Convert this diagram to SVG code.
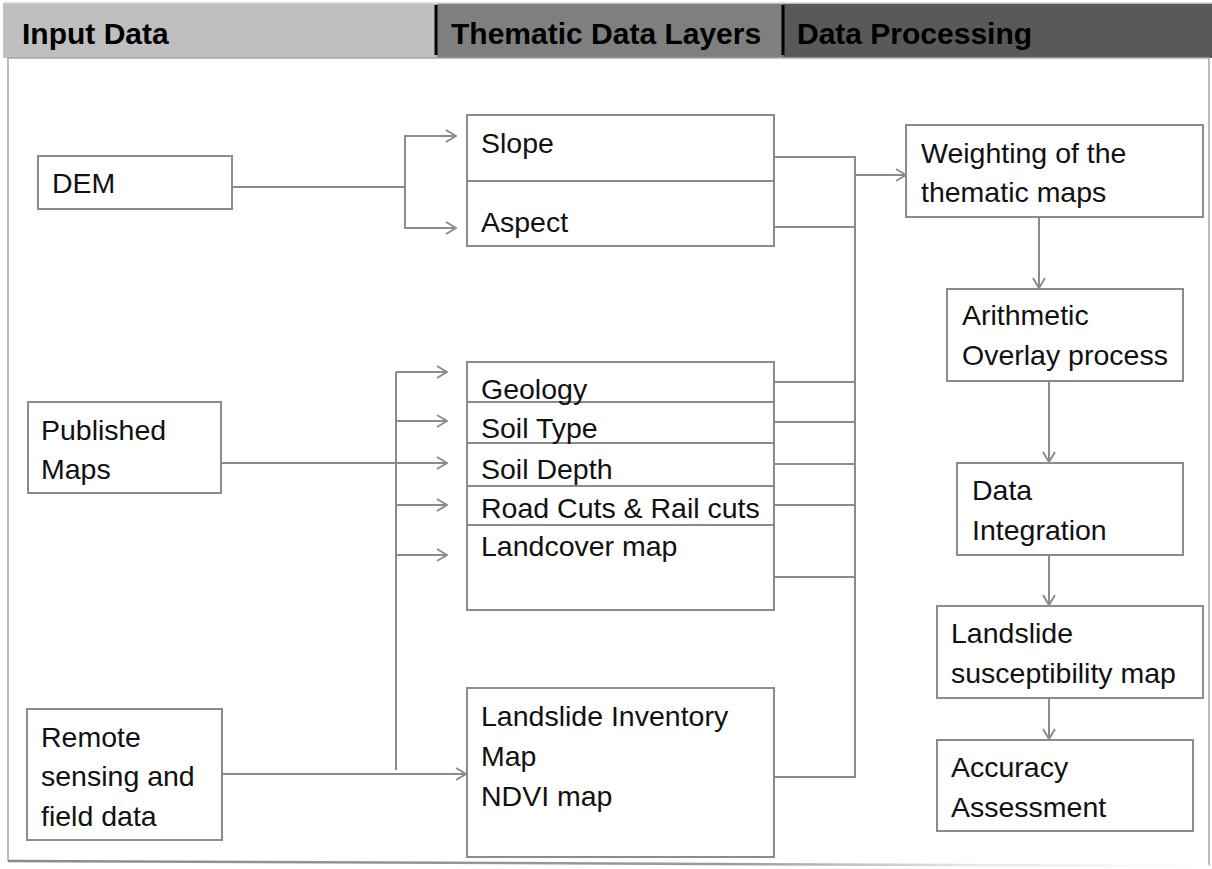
<svg xmlns="http://www.w3.org/2000/svg" width="1212" height="869" viewBox="0 0 1212 869">
<style>
.box{fill:#fff;stroke:#8c8c8c;stroke-width:2}
.div{stroke:#8c8c8c;stroke-width:2}
.t{font-family:"Liberation Sans",Arial,sans-serif;font-size:28.5px;fill:#111}
.h{font-family:"Liberation Sans",Arial,sans-serif;font-size:30px;font-weight:bold;fill:#000}
.c{fill:none;stroke:#8c8c8c;stroke-width:2}
.a{fill:none;stroke:#8c8c8c;stroke-width:2;marker-end:url(#arr)}
</style>
<defs>
<marker id="arr" viewBox="0 0 12 14" refX="11" refY="7" markerWidth="12" markerHeight="14" markerUnits="userSpaceOnUse" orient="auto">
<path d="M1,1 L11,7 L1,13" fill="none" stroke="#8c8c8c" stroke-width="2"/>
</marker>
<linearGradient id="fade" gradientUnits="userSpaceOnUse" x1="8" y1="0" x2="1209" y2="0">
<stop offset="0" stop-color="#8c8c8c"/>
<stop offset="0.6" stop-color="#9a9a9a"/>
<stop offset="0.8" stop-color="#e6e6e6"/>
<stop offset="1" stop-color="#ffffff"/>
</linearGradient>
</defs>
<rect width="1212" height="869" fill="#fff"/>
<g id="header">
<rect x="3" y="3" width="434" height="55" fill="#bfbfbf"/>
<rect x="437" y="3" width="346" height="55" fill="#7f7f7f"/>
<rect x="783" y="3" width="429" height="55" fill="#595959"/>
<line x1="3" y1="3" x2="1212" y2="3" stroke="#d9d9d9" stroke-width="1.5"/>
<line x1="436" y1="5" x2="436" y2="55" stroke="#000" stroke-width="3"/>
<line x1="783" y1="5" x2="783" y2="55" stroke="#000" stroke-width="3"/>
<text class="h" x="22" y="44">Input Data</text>
<text class="h" x="451" y="44">Thematic Data Layers</text>
<text class="h" x="797" y="44">Data Processing</text>
</g>
<g id="frame" fill="none">
<polyline points="8,861 8,58 1209,58 1209,866" stroke="#a6a6a6" stroke-width="1.5"/>
<line x1="8" y1="861" x2="1209" y2="866" stroke="url(#fade)" stroke-width="2.5"/>
</g>
<g id="connectors">
<polyline class="c" points="232,187 405,187"/>
<polyline class="a" points="456,136 405,136 405,228 456,228"/>
<line class="a" x1="405" y1="136" x2="456" y2="136"/>
<polyline class="c" points="396,770 396,372"/>
<line class="a" x1="396" y1="372" x2="447" y2="372"/>
<line class="a" x1="396" y1="421" x2="447" y2="421"/>
<line class="a" x1="222" y1="463" x2="447" y2="463"/>
<line class="a" x1="396" y1="505" x2="447" y2="505"/>
<line class="a" x1="396" y1="555" x2="447" y2="555"/>
<line class="a" x1="222" y1="774" x2="466" y2="774"/>
<polyline class="c" points="774,157 855,157 855,777 774,777"/>
<line class="c" x1="774" y1="227" x2="855" y2="227"/>
<line class="c" x1="774" y1="382" x2="855" y2="382"/>
<line class="c" x1="774" y1="422" x2="855" y2="422"/>
<line class="c" x1="774" y1="464" x2="855" y2="464"/>
<line class="c" x1="774" y1="505" x2="855" y2="505"/>
<line class="c" x1="774" y1="577" x2="855" y2="577"/>
<line class="a" x1="855" y1="175" x2="906" y2="175"/>
<line class="a" x1="1039" y1="217" x2="1039" y2="288"/>
<line class="a" x1="1049" y1="381" x2="1049" y2="462"/>
<line class="a" x1="1049" y1="555" x2="1049" y2="605"/>
<line class="a" x1="1049" y1="698" x2="1049" y2="739"/>
</g>
<g id="dem">
<rect class="box" x="38" y="156" width="194" height="53"/>
<text class="t" x="52" y="193">DEM</text>
</g>
<g id="published">
<rect class="box" x="28" y="402" width="193" height="91"/>
<text class="t" x="41" y="440">Published</text>
<text class="t" x="41" y="479">Maps</text>
</g>
<g id="remote">
<rect class="box" x="27" y="709" width="195" height="131"/>
<text class="t" x="41" y="747">Remote</text>
<text class="t" x="41" y="786">sensing and</text>
<text class="t" x="41" y="826">field data</text>
</g>
<g id="slope-aspect">
<rect class="box" x="467" y="115" width="307" height="131"/>
<line class="div" x1="467" y1="181" x2="774" y2="181"/>
<text class="t" x="481" y="153">Slope</text>
<text class="t" x="481" y="232">Aspect</text>
</g>
<g id="layers">
<rect class="box" x="467" y="362" width="307" height="248"/>
<line class="div" x1="467" y1="402" x2="774" y2="402"/>
<line class="div" x1="467" y1="443" x2="774" y2="443"/>
<line class="div" x1="467" y1="486" x2="774" y2="486"/>
<line class="div" x1="467" y1="525" x2="774" y2="525"/>
<text class="t" x="481" y="399">Geology</text>
<text class="t" x="481" y="438">Soil Type</text>
<text class="t" x="481" y="479">Soil Depth</text>
<text class="t" x="481" y="518">Road Cuts &amp; Rail cuts</text>
<text class="t" x="481" y="556">Landcover map</text>
</g>
<g id="inventory">
<rect class="box" x="467" y="688" width="307" height="169"/>
<text class="t" x="481" y="726">Landslide Inventory</text>
<text class="t" x="481" y="766">Map</text>
<text class="t" x="481" y="806">NDVI map</text>
</g>
<g id="weighting">
<rect class="box" x="906" y="125" width="297" height="92"/>
<text class="t" x="921" y="163">Weighting of the</text>
<text class="t" x="921" y="202">thematic maps</text>
</g>
<g id="overlay">
<rect class="box" x="947" y="289" width="236" height="92"/>
<text class="t" x="962" y="325">Arithmetic</text>
<text class="t" x="962" y="365">Overlay process</text>
</g>
<g id="integration">
<rect class="box" x="957" y="463" width="226" height="92"/>
<text class="t" x="972" y="500">Data</text>
<text class="t" x="972" y="540">Integration</text>
</g>
<g id="susceptibility">
<rect class="box" x="937" y="606" width="266" height="92"/>
<text class="t" x="951" y="643">Landslide</text>
<text class="t" x="951" y="683">susceptibility map</text>
</g>
<g id="accuracy">
<rect class="box" x="937" y="740" width="256" height="91"/>
<text class="t" x="951" y="777">Accuracy</text>
<text class="t" x="951" y="817">Assessment</text>
</g>
</svg>
